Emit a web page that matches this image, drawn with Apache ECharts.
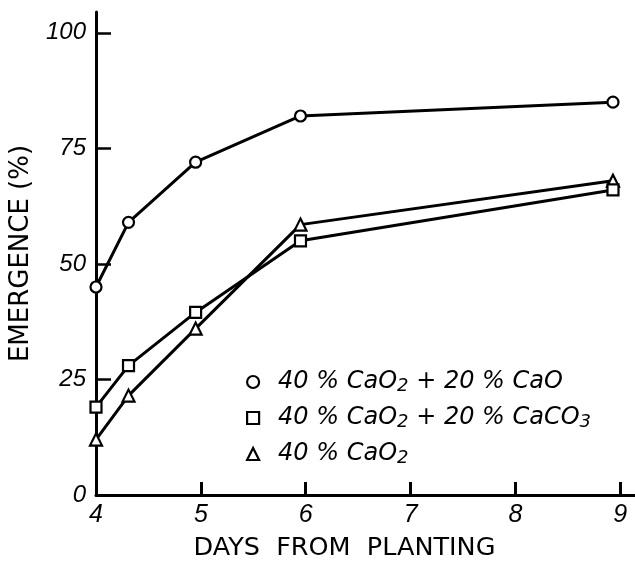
<!DOCTYPE html>
<html><head><meta charset="utf-8">
<script src="https://cdn.jsdelivr.net/npm/echarts@6/dist/echarts.min.js"></script>
<style>html,body{margin:0;padding:0;background:#fff}#c{width:635px;height:566px}</style>
</head><body><div id="c"></div>
<script>
const days = [4, 4.31, 4.95, 5.95, 8.93];
const seriesNames = ['40 % CaO2 + 20 % CaO', '40 % CaO2 + 20 % CaCO3', '40 % CaO2'];
const caoValues = [45, 59, 72, 82, 85];
const caco3Values = [19, 28, 39.5, 55, 66];
const cao2Values = [12, 21.5, 36, 58.5, 68];
const xTicks = [4, 5, 6, 7, 8, 9];
const yTicks = [0, 25, 50, 75, 100];
const xAxisTitle = 'DAYS  FROM  PLANTING';
const yAxisTitle = 'EMERGENCE (%)';
const symbols = ['circle', 'rect', 'triangle'];
const symbolSizes = [11, 11, 12];

const valueSets = [caoValues, caco3Values, cao2Values];
const labelFont = 'Liberation Sans';
const titleFont = 'DejaVu Sans';

const chart = echarts.init(document.getElementById('c'), null, {renderer: 'canvas'});
chart.setOption({
  animation: false,
  backgroundColor: '#fff',
  grid: {left: 94, right: 0, top: 12, bottom: 66, containLabel: false},
  xAxis: {
    type: 'value', min: 4, max: 9.14, interval: 1,
    splitLine: {show: false},
    axisLine: {show: true, onZero: false, lineStyle: {color: '#000', width: 3}},
    axisTick: {show: true, inside: true, length: 13, customValues: xTicks, lineStyle: {color: '#000', width: 3}},
    axisLabel: {customValues: xTicks, margin: 8, color: '#000', fontFamily: labelFont, fontStyle: 'italic', fontSize: 25},
    name: xAxisTitle, nameLocation: 'middle', nameGap: 40,
    nameTextStyle: {fontFamily: titleFont, fontSize: 25.5, color: '#000', padding: [0, 42, 0, 0]}
  },
  yAxis: {
    type: 'value', min: 0, max: 104.5, interval: 25,
    splitLine: {show: false},
    axisLine: {show: true, onZero: false, lineStyle: {color: '#000', width: 3}},
    axisTick: {show: true, inside: true, length: 15, customValues: yTicks, lineStyle: {color: '#000', width: 2.5}},
    axisLabel: {customValues: yTicks, margin: 10, color: '#000', fontFamily: labelFont, fontStyle: 'italic', fontSize: 24},
    name: yAxisTitle, nameLocation: 'middle', nameGap: 62, nameRotate: 90,
    nameTextStyle: {fontFamily: titleFont, fontSize: 26, color: '#000'}
  },
  legend: {
    orient: 'vertical', left: 241, top: 364, itemGap: 10,
    itemWidth: 12, itemHeight: 12,
    data: seriesNames.map((n, i) => ({name: n, icon: symbols[i]})),
    itemStyle: {color: '#fff', borderColor: '#000', borderWidth: 2.2},
    formatter: n => n.replace(/O(\d)/g, 'O{s|$1}'),
    textStyle: {
      fontFamily: titleFont, fontSize: 24, fontStyle: 'italic', color: '#000', lineHeight: 26,
      padding: [0, 0, 0, 14],
      rich: {s: {fontFamily: titleFont, fontSize: 18, fontStyle: 'italic', color: '#000', lineHeight: 18, verticalAlign: 'bottom'}}
    }
  },
  series: seriesNames.map((n, i) => ({
    name: n, type: 'line',
    data: days.map((d, j) => [d, valueSets[i][j]]),
    symbol: symbols[i], symbolSize: symbolSizes[i], showAllSymbol: true,
    lineStyle: {color: '#000', width: 3},
    itemStyle: {color: '#fff', borderColor: '#000', borderWidth: 2.2},
    emphasis: {disabled: true},
    z: 3 - i
  }))
});
</script></body></html>
